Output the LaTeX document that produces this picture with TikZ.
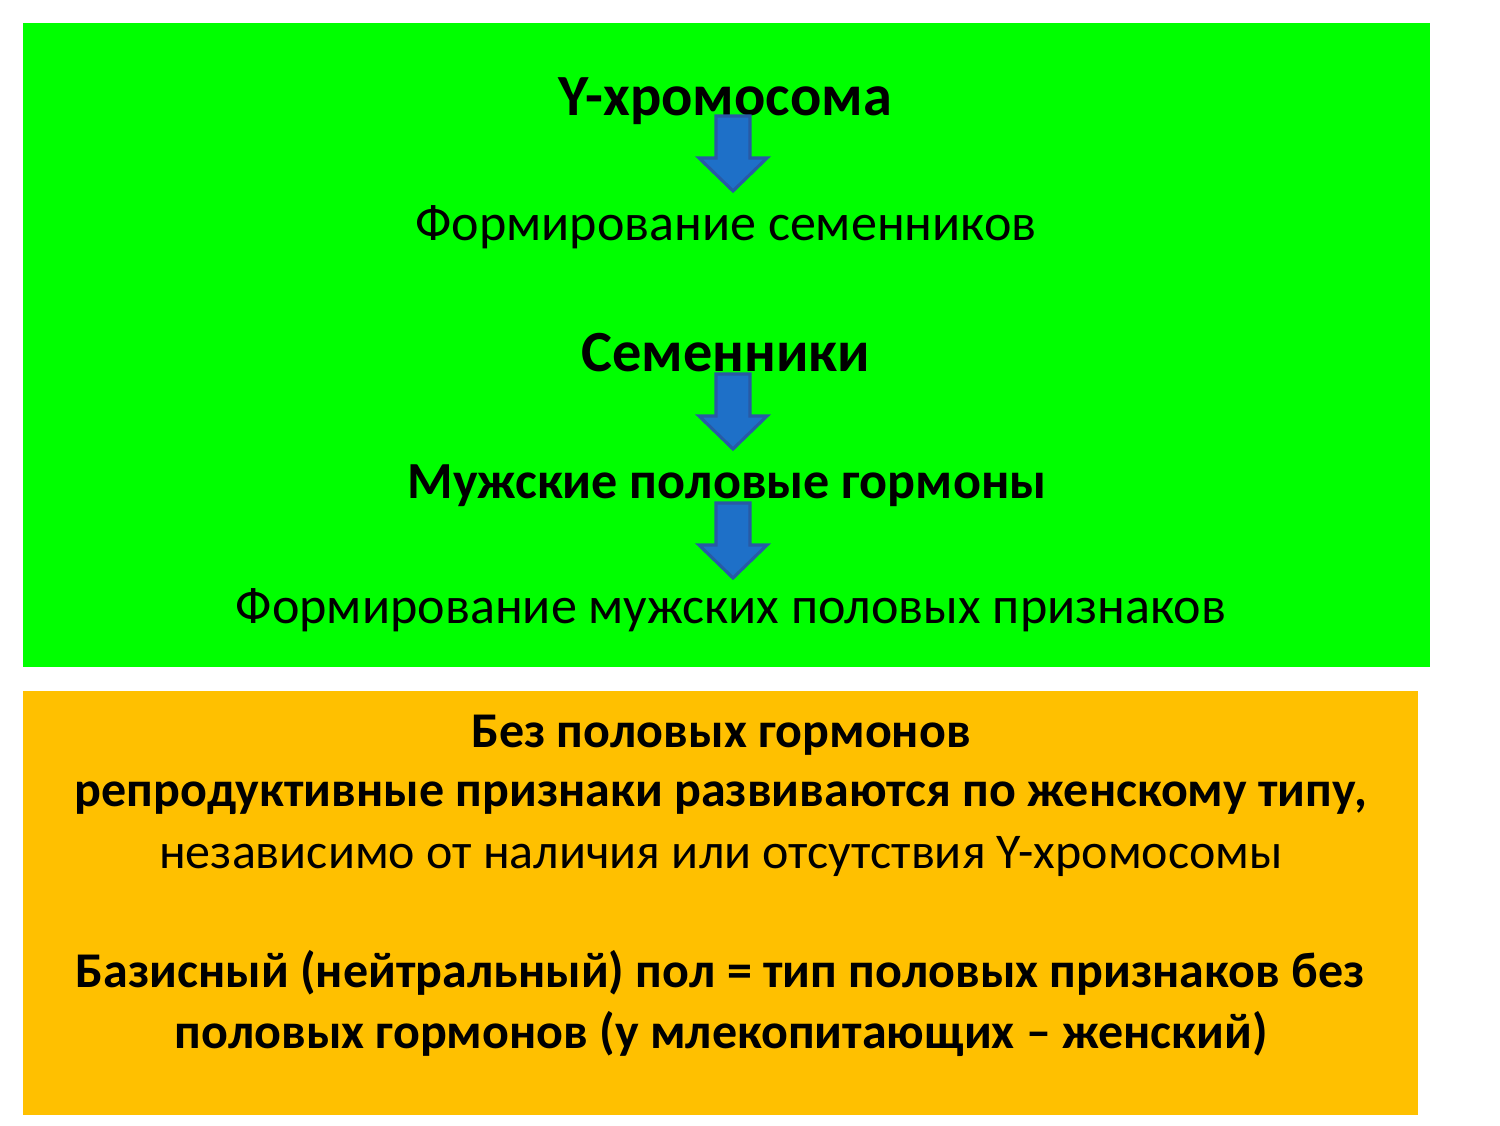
\documentclass[tikz,border=0pt]{standalone}
\usepackage{fontspec}
\setmainfont{Carlito}
\definecolor{boxgreen}{RGB}{0,255,0}
\definecolor{boxorange}{RGB}{255,192,0}
\definecolor{arrowfill}{RGB}{30,112,200}
\definecolor{arrowline}{RGB}{40,90,165}
\begin{document}
\begin{tikzpicture}[x=0.48pt,y=-0.48pt,
  txt/.style={inner sep=0pt,anchor=base,font=\fontsize{24}{28.8}\selectfont},
  gtxt/.style={txt,font=\fontsize{25}{30}\selectfont},
  btxt/.style={txt,font=\fontsize{24}{28.8}\selectfont\bfseries},
  gbtxt/.style={txt,font=\fontsize{25}{30}\selectfont\bfseries},
  bigtxt/.style={txt,font=\fontsize{28}{33.6}\selectfont\bfseries},
  downarrow/.pic={\draw[fill=arrowfill,draw=arrowline,line width=1.5pt,line join=miter]
    (-17,0) -- (17,0) -- (17,42) -- (34,42) -- (0,75) -- (-34,42) -- (-17,42) -- cycle;}
]
\useasboundingbox (0,0) rectangle (1500,1125);
\fill[boxgreen] (23,23) rectangle (1430,667);
\fill[boxorange] (23,691) rectangle (1418,1115);

\node[bigtxt] (y) at (725,115) {Y-хромосома};
\node[gtxt] (fs) at (726,240) {Формирование семенников};
\node[bigtxt] (s) at (726,371) {Семенники};
\node[gbtxt] (m) at (727,498) {Мужские половые гормоны};
\node[gtxt] (fm) at (731,623) {Формирование мужских половых признаков};

\coordinate (a1) at (733,116);
\coordinate (a2) at (733,374);
\coordinate (a3) at (733,503);
\pic at (a1) {downarrow};
\pic at (a2) {downarrow};
\pic at (a3) {downarrow};

\node[btxt] (o1) at (721,747) {Без половых гормонов};
\node[btxt] (o2) at (721,806) {репродуктивные признаки развиваются по женскому типу,};
\node[txt] (o3) at (721,868) {независимо от наличия или отсутствия Y-хромосомы};
\node[btxt] (o4) at (720,987) {Базисный (нейтральный) пол = тип половых признаков без};
\node[btxt] (o5) at (721,1048) {половых гормонов (у млекопитающих – женский)};
\end{tikzpicture}
\end{document}
